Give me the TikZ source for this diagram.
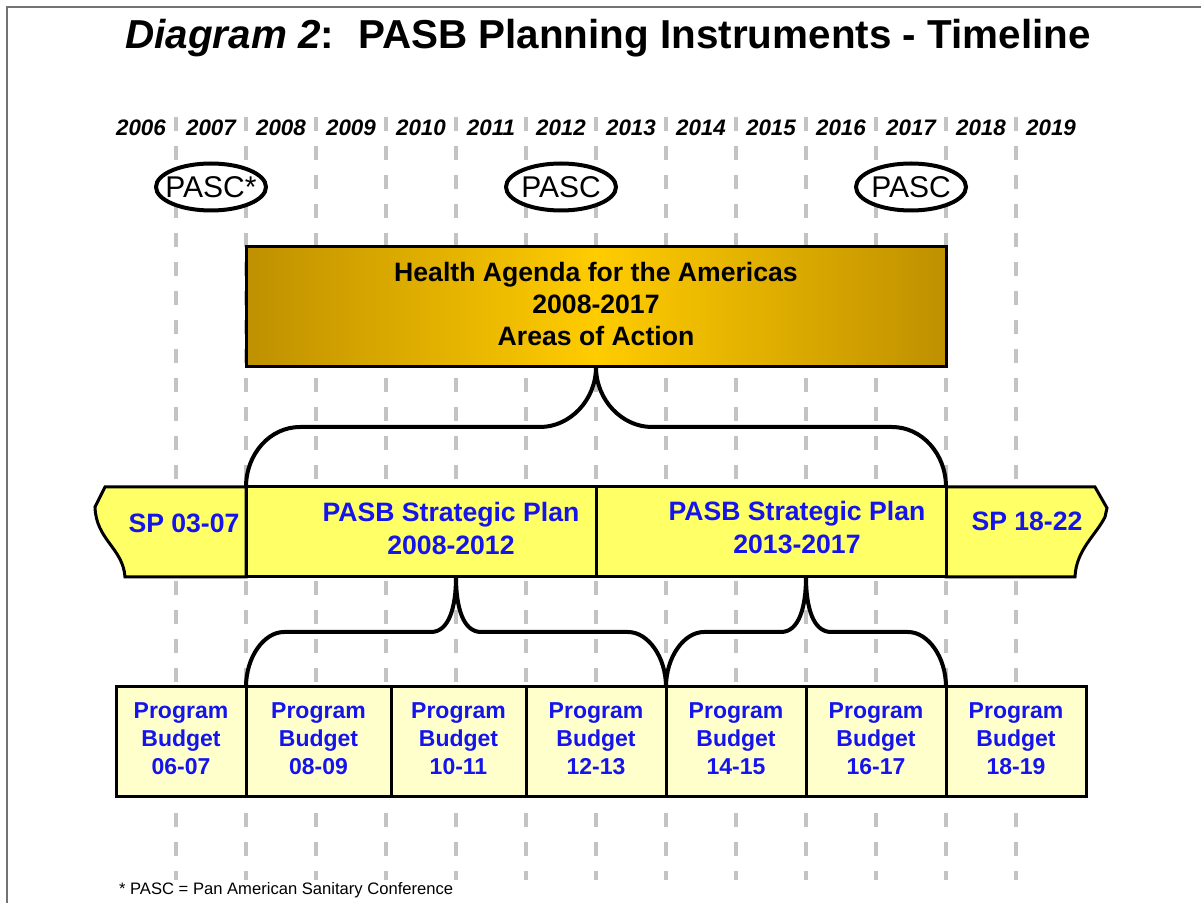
\documentclass[tikz,border=0pt]{standalone}
\usepackage{fontspec}
\setmainfont{Liberation Sans}
\usepackage{xcolor}
\usepackage{tikz}
\usetikzlibrary{shapes.geometric,calc}

\definecolor{spyellow}{RGB}{255,255,102}
\definecolor{pbyellow}{RGB}{255,255,204}
\definecolor{goldedge}{RGB}{191,144,0}
\definecolor{goldmid}{RGB}{255,204,0}
\definecolor{planblue}{RGB}{20,20,235}
\definecolor{gridgray}{RGB}{195,195,195}

\tikzset{
  yearline/.style={color=gridgray, line width=2pt, dash pattern=on 7pt off 7.5pt},
  yearlabel/.style={font=\bfseries\itshape\fontsize{11.2}{13}\selectfont},
  pasc/.style={draw, ellipse, line width=2pt, fill=white, minimum width=55pt, minimum height=23.5pt, inner xsep=-7pt, inner ysep=0pt, outer sep=0pt, font=\fontsize{15}{18}\selectfont},
  agenda/.style={draw, line width=1.5pt, left color=goldedge, right color=goldedge, middle color=goldmid, minimum width=350pt, minimum height=60pt, inner sep=0pt, outer sep=0pt, text depth=3pt, align=center, font=\bfseries\fontsize{13.3}{16}\selectfont},
  spbox/.style={draw, line width=1.5pt, fill=spyellow, minimum width=175pt, minimum height=45pt, inner sep=0pt, outer sep=0pt},
  sptext/.style={text=planblue, align=center, font=\bfseries\fontsize{13.3}{16.5}\selectfont},
  pbbox/.style={draw, line width=1.5pt, fill=pbyellow, minimum height=55pt, inner sep=0pt, outer sep=0pt, text depth=3pt, text=planblue, align=center, font=\bfseries\fontsize{11.5}{14}\selectfont},
  brace/.style={line width=2pt},
}

\begin{document}
\begin{tikzpicture}[x=0.5pt, y=-0.5pt]
		\useasboundingbox (0,0) rectangle (1201,903);
		\draw[color=gray!90!black, line width=0.6pt] (1201,7) -- (7,7) -- (7,903);
		\node (title) at (608,38) {\bfseries\fontsize{20.2}{24}\selectfont\textit{Diagram 2}:\hspace{12pt}PASB Planning Instruments - Timeline};
		% year grid
		\foreach \k in {0,...,12}
			\draw[yearline] (176+70*\k,117) -- (176+70*\k,880);
		\foreach \yr [count=\i from 0] in {2006,...,2019}
			\node[yearlabel] (y\yr) at (141+70*\i,128) {\yr};
		% conferences
		\node[pasc] (pasc07) at (211,187) {PASC*};
		\node[pasc] (pasc12) at (561,187) {PASC};
		\node[pasc] (pasc17) at (911,187) {PASC};
		% health agenda
		\node[agenda] (agenda) at (596,307) {Health Agenda for the Americas\\2008-2017\\Areas of Action};
		% strategic plans
		\filldraw[fill=spyellow, line width=1.5pt] (246,487) -- (105,487) -- (95,507) .. controls (96,540) and (123,548) .. (125,577) -- (246,577) -- cycle;
		\filldraw[fill=spyellow, line width=1.5pt] (946,487) -- (1095,487) -- (1107,508) -- (1105,517) .. controls (1096,535) and (1076,550) .. (1075,577) -- (946,577) -- cycle;
		\node[sptext] (sp03) at (184,523) {SP 03-07};
		\node[sptext] (sp18) at (1027,521) {SP 18-22};
		\node[spbox] (sp08) at (421,532) {};
		\node[spbox] (sp13) at (771,532) {};
		\node[sptext] (sp08txt) at (451,528) {PASB Strategic Plan\\2008-2012};
		\node[sptext] (sp13txt) at (797,528) {PASB Strategic Plan\\2013-2017};
		% program budgets
		\node[pbbox, minimum width=65pt] (pb06) at (181,742) {Program\\Budget\\06-07};
		\node[pbbox, minimum width=72.5pt] (pb08) at (318.5,742) {Program\\Budget\\08-09};
		\node[pbbox, minimum width=67.5pt] (pb10) at (458.5,742) {Program\\Budget\\10-11};
		\node[pbbox, minimum width=70pt] (pb12) at (596,742) {Program\\Budget\\12-13};
		\node[pbbox, minimum width=70pt] (pb14) at (736,742) {Program\\Budget\\14-15};
		\node[pbbox, minimum width=70pt] (pb16) at (876,742) {Program\\Budget\\16-17};
		\node[pbbox, minimum width=70pt] (pb18) at (1016,742) {Program\\Budget\\18-19};
		% braces
		\draw[brace] (sp08.north west) .. controls +(0,-33) and +(-30,0) .. ++(54,-60) -- ($(agenda.south)+(-56,60)$) .. controls +(30,0) and +(0,33) .. (agenda.south);
		\draw[brace] (agenda.south) .. controls +(0,33) and +(-30,0) .. ++(56,60) -- ($(sp13.north east)+(-54,-60)$) .. controls +(30,0) and +(0,-33) .. (sp13.north east);
		\coordinate (cusp08) at ($(sp08.south west)!0.6!(sp08.south east)$);
		\coordinate (cusp13) at ($(sp13.south west)!0.6!(sp13.south east)$);
		\draw[brace] (pb08.north west) .. controls +(0,-30) and +(-20,0) .. ++(38,-55) -- ($(cusp08)+(-25,55)$) .. controls +(18,0) and +(0,30) .. (cusp08);
		\draw[brace] (cusp08) .. controls +(0,30) and +(-18,0) .. ++(25,55) -- ($(pb12.north east)+(-38,-55)$) .. controls +(20,0) and +(0,-30) .. (pb12.north east);
		\draw[brace] (pb14.north west) .. controls +(0,-30) and +(-20,0) .. ++(38,-55) -- ($(cusp13)+(-25,55)$) .. controls +(18,0) and +(0,30) .. (cusp13);
		\draw[brace] (cusp13) .. controls +(0,30) and +(-18,0) .. ++(25,55) -- ($(pb16.north east)+(-38,-55)$) .. controls +(20,0) and +(0,-30) .. (pb16.north east);
		% footnote
		\node[anchor=west, font=\fontsize{8.3}{10}\selectfont] (note) at (112,890) {* PASC = Pan American Sanitary Conference};
\end{tikzpicture}
\end{document}
